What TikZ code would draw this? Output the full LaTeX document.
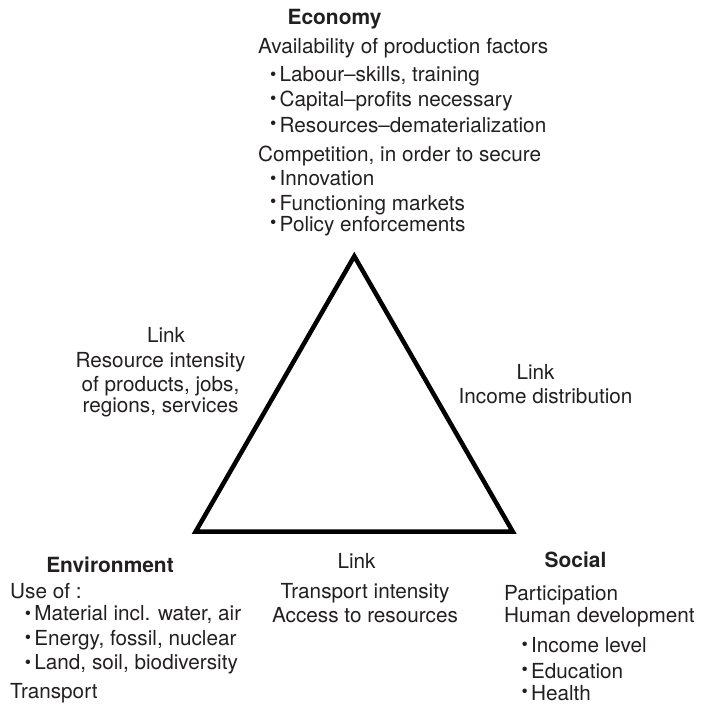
\documentclass[tikz,border=0pt]{standalone}
\usepackage{fontspec}
\setmainfont{TeX Gyre Heros}
\definecolor{ink}{HTML}{231F20}

% bullet with its own indent
\newcommand{\bul}[1][12bp]{\hspace*{#1}\makebox[9.5bp][l]{\raisebox{1.5bp}{\fontsize{18}{18}\selectfont\textbullet}}\ignorespaces}
\newcommand{\bulhi}[1][12bp]{\hspace*{#1}\makebox[9.5bp][l]{\raisebox{3bp}{\fontsize{18}{18}\selectfont\textbullet}}\ignorespaces}

\begin{document}
\begin{tikzpicture}[
    x=1bp, y=-1bp,
    head/.style={
        font=\fontsize{21}{25}\selectfont\bfseries,
        text=ink,
        inner sep=0pt,
        anchor=base
    },
    lnk/.style={
        font=\fontsize{20.8}{24.5}\selectfont,
        text=ink,
        inner sep=0pt,
        anchor=base
    },
    txt/.style={
        font=\fontsize{20.8}{24.5}\selectfont,
        text=ink,
        inner sep=0pt,
        align=left,
        anchor=north west
    },
    ctxt/.style={
        font=\fontsize{20.8}{24.5}\selectfont,
        text=ink,
        inner sep=0pt,
        align=center,
        anchor=north
    },
    side/.style={
        line width=4.5bp,
        line join=miter,
        draw=black
    }
]
\useasboundingbox (0,0) rectangle (704,705);

% Triangle
\coordinate (eco) at (354.3,256.2);
\coordinate (env) at (195.6,531.7);
\coordinate (soc) at (512.8,531.7);
\draw[side] (eco) -- (env) -- (soc) -- cycle;

% Economy
\node[head] (economy) at (334.5,25) {Economy};
\node[txt] (ecolist) at (258,38.2) {Availability of production factors\\[4bp]
    \bul[12bp] Labour--skills, training\\
    \bul[12bp] Capital--profits necessary\\[2bp]
    \bulhi[12bp] Resources--dematerialization\\[4bp]
    Competition, in order to secure\\
    \bul[12bp] Innovation\\
    \bulhi[12bp] Functioning markets\\[-3bp]
    \bulhi[12bp] Policy enforcements};

% Environment
\node[head] (environment) at (110,572) {Environment};
\node[txt] (envlist) at (10,583.2) {Use of :\\[-2bp]
    \bul[14.7bp] Material incl. water, air\\
    \bul[14.7bp] Energy, fossil, nuclear\\
    \bul[14.7bp] Land, soil, biodiversity\\[4bp]
    Transport};

% Social
\node[head] (social) at (575.5,567) {Social};
\node[txt] (soclist) at (504,585.1) {Participation\\[-2.5bp]
    Human development\\[5.5bp]
    \bul[17.4bp] Income level\\[1.5bp]
    \bulhi[17.4bp] Education\\[-2.5bp]
    \bulhi[17.4bp] Health};

% Links
\node[lnk] (linkleft) at (166,342) {Link};
\node[ctxt] (leftdesc) at (160.5,352.1) {Resource intensity\\
    of products, jobs,\\[-3.5bp]
    regions, services};

\node[lnk] (linkright) at (535.5,379) {Link};
\node[lnk] (rightdesc) at (545.5,403) {Income distribution};

\node[lnk] (linkbottom) at (356.5,568) {Link};
\node[ctxt] (bottomdesc) at (365,583.1) {Transport intensity\\[-0.5bp]
    Access to resources};

\end{tikzpicture}
\end{document}
